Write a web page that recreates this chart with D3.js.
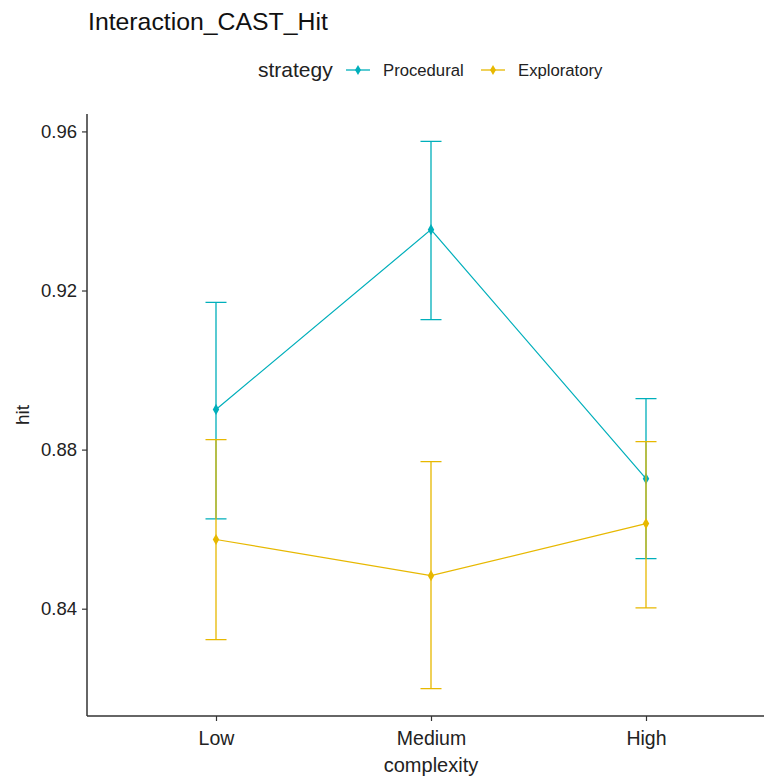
<!DOCTYPE html>
<html>
<head>
<meta charset="utf-8">
<script src="https://cdn.jsdelivr.net/npm/d3@7"></script>
<style>
  body { margin: 0; background: #fff; }
  svg { font-family: 'Liberation Sans', Arial, sans-serif; }
</style>
</head>
<body>
<div id="chart"></div>
<script>
// data
const complexity = ['Low', 'Medium', 'High'];
const strategies = ['Procedural', 'Exploratory'];
const procedualMean = [0.8901, 0.9353, 0.8727];
const procedualLow = [0.8626, 0.9127, 0.8526];
const procedualHigh = [0.9170, 0.9575, 0.8928];
const exploratoryMean = [0.8574, 0.8483, 0.8614];
const exploratoryLow = [0.8322, 0.8199, 0.8402];
const exploratoryHigh = [0.8825, 0.8770, 0.8820];
const yTicks = [0.84, 0.88, 0.92, 0.96];

const COLOR = new Map([['Procedural', '#00AFBB'], ['Exploratory', '#E7B800']]);

const series = [
  { id: 'Procedural', mean: procedualMean, lo: procedualLow, hi: procedualHigh },
  { id: 'Exploratory', mean: exploratoryMean, lo: exploratoryLow, hi: exploratoryHigh },
].map((s) => ({
  id: s.id,
  values: complexity.map((c, i) => ({ c, mean: s.mean[i], lo: s.lo[i], hi: s.hi[i] })),
}));

const width = 764;
const height = 778;
const margin = { top: 114, right: -11, bottom: 62, left: 87 };

const svg = d3.select('#chart')
  .append('svg')
  .attr('width', width)
  .attr('height', height);

// scales (ggplot-ish 5% expansion)
const allVals = series.flatMap((s) => s.values.flatMap((d) => [d.lo, d.hi]));
const [minV, maxV] = d3.extent(allVals);
const pad = (maxV - minV) * 0.05;

const y = d3.scaleLinear()
  .domain([minV - pad, maxV + pad])
  .range([height - margin.bottom, margin.top]);

const x = d3.scalePoint()
  .domain(complexity)
  .range([margin.left, width - margin.right])
  .padding(0.6);

// axes
svg.append('g')
  .attr('transform', `translate(${margin.left},0)`)
  .call(d3.axisLeft(y).tickValues(yTicks).tickFormat(d3.format('.2f')).tickSize(5).tickPadding(5))
  .call((g) => g.select('.domain').attr('stroke', '#333').attr('stroke-width', 1.5)
    .attr('d', `M0,${y.range()[1]}V${y.range()[0]}`))
  .call((g) => g.selectAll('.tick line').attr('stroke', '#333').attr('stroke-width', 1.2))
  .call((g) => g.selectAll('.tick text').attr('font-size', 18.5).attr('fill', '#222')
    .attr('font-family', "'Liberation Sans', Arial, sans-serif"));

svg.append('g')
  .attr('transform', `translate(0,${height - margin.bottom})`)
  .call(d3.axisBottom(x).tickSize(5).tickPadding(10))
  .call((g) => g.select('.domain').attr('stroke', '#333').attr('stroke-width', 1.5)
    .attr('d', `M${margin.left},0H${width}`))
  .call((g) => g.selectAll('.tick line').attr('stroke', '#333').attr('stroke-width', 1.2))
  .call((g) => g.selectAll('.tick text').attr('font-size', 19.5).attr('fill', '#222')
    .attr('font-family', "'Liberation Sans', Arial, sans-serif"));

// axis titles
svg.append('text')
  .attr('x', x('Medium'))
  .attr('y', 772)
  .attr('text-anchor', 'middle')
  .attr('font-size', 20)
  .attr('fill', '#222')
  .text('complexity');

svg.append('text')
  .attr('transform', `translate(29,${(y.range()[0] + y.range()[1]) / 2}) rotate(-90)`)
  .attr('text-anchor', 'middle')
  .attr('font-size', 19)
  .attr('fill', '#222')
  .text('hit');

// title
svg.append('text')
  .attr('x', 88)
  .attr('y', 30)
  .attr('font-size', 24.8)
  .attr('fill', '#111')
  .text('Interaction_CAST_Hit');

// legend
const legend = svg.append('g').attr('transform', 'translate(0,70)');
legend.append('text')
  .attr('x', 258)
  .attr('y', 7)
  .attr('font-size', 21)
  .attr('fill', '#222')
  .text('strategy');

const legendItems = legend.selectAll('.legend-item')
  .data(strategies)
  .join('g')
  .attr('class', 'legend-item')
  .attr('transform', (d, i) => `translate(${[346, 481][i]},0)`);

legendItems.append('line')
  .attr('x1', 0).attr('x2', 24)
  .attr('stroke', (d) => COLOR.get(d))
  .attr('stroke-width', 1.3);
legendItems.append('path')
  .attr('transform', 'translate(12,0)')
  .attr('d', d3.symbol(d3.symbolDiamond, 30))
  .attr('fill', (d) => COLOR.get(d));
legendItems.append('text')
  .attr('x', 37)
  .attr('y', 6)
  .attr('font-size', 16.7)
  .attr('fill', '#222')
  .text((d) => d);

// data
const line = d3.line()
  .x((d) => x(d.c))
  .y((d) => y(d.mean));

const capW = 10.5;

const groups = svg.append('g')
  .selectAll('g')
  .data(series)
  .join('g')
  .attr('stroke', (d) => COLOR.get(d.id))
  .attr('fill', (d) => COLOR.get(d.id));

groups.append('path')
  .attr('d', (d) => line(d.values))
  .attr('fill', 'none')
  .attr('stroke-width', 1.2);

groups.selectAll('.errbar')
  .data((d) => d.values)
  .join('path')
  .attr('class', 'errbar')
  .attr('fill', 'none')
  .attr('stroke-width', 1.3)
  .attr('d', (d) => {
    const cx = x(d.c);
    return `M${cx - capW},${y(d.hi)}H${cx + capW}`
      + `M${cx},${y(d.hi)}V${y(d.lo)}`
      + `M${cx - capW},${y(d.lo)}H${cx + capW}`;
  });

groups.selectAll('.pt')
  .data((d) => d.values)
  .join('path')
  .attr('class', 'pt')
  .attr('stroke', 'none')
  .attr('transform', (d) => `translate(${x(d.c)},${y(d.mean)})`)
  .attr('d', d3.symbol(d3.symbolDiamond, 36));
</script>
</body>
</html>
